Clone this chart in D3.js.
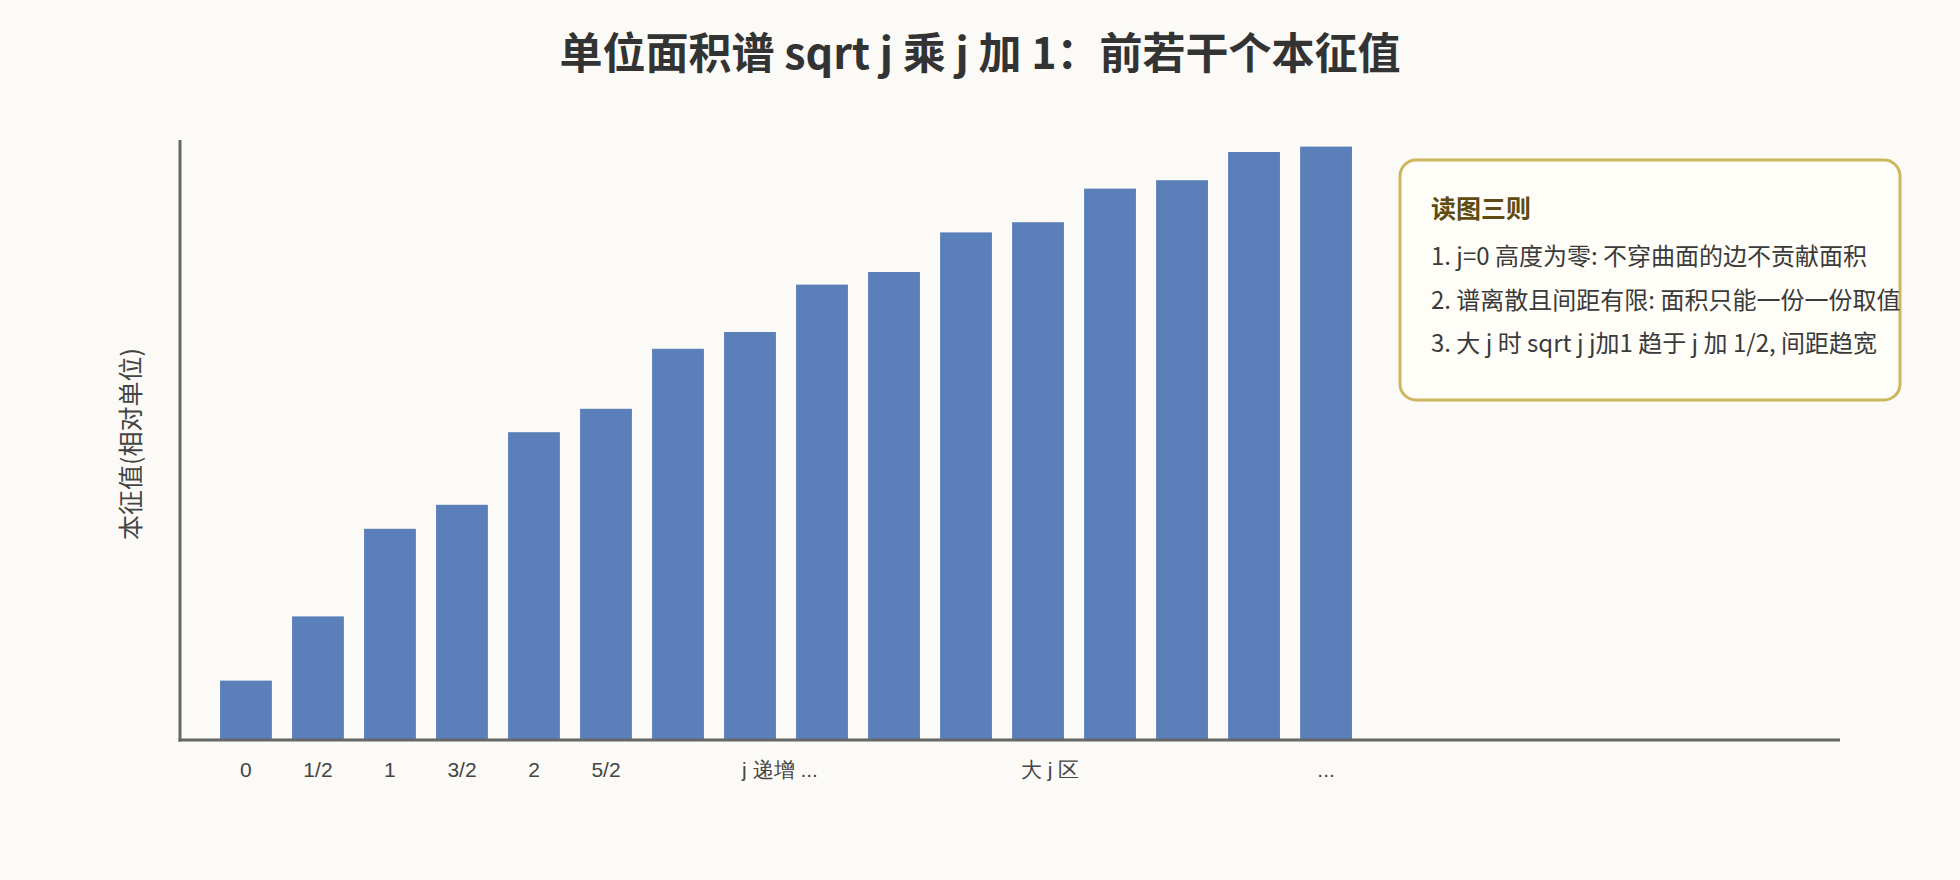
<!DOCTYPE html>
<html lang="zh">
<head>
<meta charset="utf-8">
<title>单位面积谱</title>
<script src="https://cdn.jsdelivr.net/npm/d3@7"></script>
<style>
	body { margin: 0; background: #fbfaf6; font-family: "Noto Sans CJK SC", "Noto Sans", sans-serif; }
	svg { display: block; }
	.tick text { font-size: 21px; fill: #444; }
</style>
</head>
<body>
<svg id="chart" width="1960" height="880"></svg>
<script>
// 16 bars (relative units, axis top = 1)
var labels = ["0","1/2","1","3/2","2","5/2","","j 递增 ...","","","","大 j 区","","","","..."]
var values = [0.099, 0.206, 0.352, 0.392, 0.513, 0.552, 0.652, 0.680, 0.759, 0.780, 0.846, 0.863, 0.919, 0.933, 0.980, 0.989]
var notes = ["1. j=0 高度为零: 不穿曲面的边不贡献面积",
	"2. 谱离散且间距有限: 面积只能一份一份取值",
	"3. 大 j 时 sqrt j j加1 趋于 j 加 1/2, 间距趋宽"]

var svg = d3.select("#chart")
var mLeft = 180, mBottom = 740, mTop = 140, mRight = 1840

var x = d3.scaleBand()
	.domain(d3.range(values.length))
	.range([mLeft, 1392])
	.paddingInner(0.28)
	.paddingOuter(0.556)
var y = d3.scaleLinear().domain([0, 1]).range([mBottom, mTop])

svg.append("text")
	.attr("x", 980).attr("y", 69)
	.attr("text-anchor", "middle")
	.style("font-size", "43px").style("font-weight", "bold").style("fill", "#333")
	.text("单位面积谱 sqrt j 乘 j 加 1：前若干个本征值")

svg.selectAll(".bar").data(values).enter().append("rect")
	.attr("class", "bar")
	.attr("x", function(d, i) { return x(i) })
	.attr("width", x.bandwidth())
	.attr("y", function(d) { return y(d) })
	.attr("height", function(d) { return mBottom - y(d) })
	.style("fill", "#5b7fb9")

//axes: ticks from the band scale, lines drawn by hand
var xa = svg.append("g").attr("transform", "translate(0," + mBottom + ")")
	.call(d3.axisBottom(x).tickSize(0).tickPadding(22).tickFormat(function(i) { return labels[i] }))
xa.select(".domain").remove()
xa.selectAll(".tick text").style("font-family", "inherit")
	.attr("dx", function(i) { return i == 7 ? 30 : (i == 11 ? 12 : 0) })

svg.append("line").attr("x1", mLeft).attr("x2", mLeft).attr("y1", mTop).attr("y2", mBottom + 1.5)
	.style("stroke", "#666").style("stroke-width", 3)
svg.append("line").attr("x1", mLeft - 1.5).attr("x2", mRight).attr("y1", mBottom).attr("y2", mBottom)
	.style("stroke", "#666").style("stroke-width", 3)

svg.append("text")
	.attr("transform", "translate(140,444) rotate(-90)")
	.attr("text-anchor", "middle")
	.style("font-size", "25px").style("fill", "#444")
	.text("本征值(相对单位)")

//note box
var box = svg.append("g")
box.append("rect")
	.attr("x", 1400).attr("y", 160).attr("width", 500).attr("height", 240)
	.attr("rx", 16)
	.style("fill", "#fffdf7").style("stroke", "#cdb65e").style("stroke-width", 3)
box.append("text")
	.attr("x", 1431).attr("y", 218)
	.style("font-size", "25px").style("font-weight", "bold").style("fill", "#5e4b12")
	.text("读图三则")
box.selectAll(".note").data(notes).enter().append("text")
	.attr("class", "note")
	.attr("x", 1431)
	.attr("y", function(d, i) { return 265 + i * 43.5 })
	.style("font-size", "24px").style("fill", "#3a3a3a")
	.text(function(d) { return d })
</script>
</body>
</html>
